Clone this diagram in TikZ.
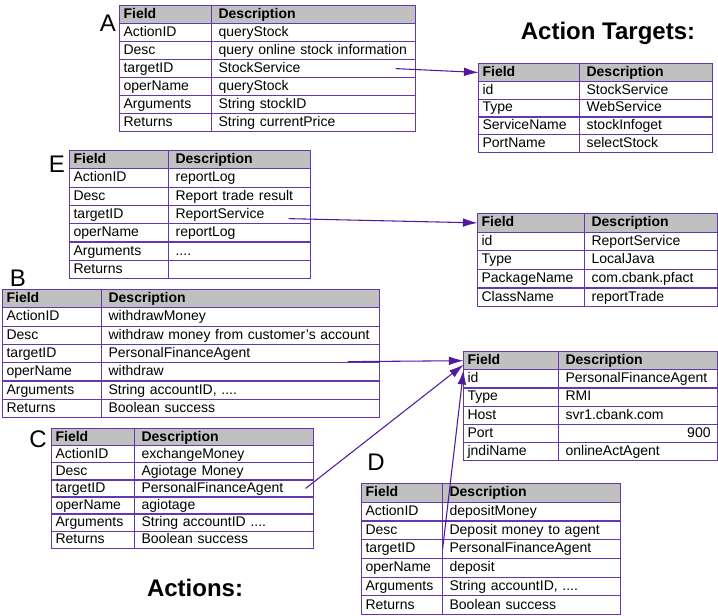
\documentclass[tikz,border=0pt]{standalone}
\usepackage{fontspec}
\setmainfont{Liberation Sans}
\usetikzlibrary{matrix,arrows.meta}
\newdimen\pxu \pxu=0.75pt
\definecolor{tblline}{RGB}{100,55,175}
\definecolor{linkline}{RGB}{80,25,160}
\definecolor{tblhead}{RGB}{192,192,192}

\begin{document}
\begin{tikzpicture}[x=1\pxu,y=-1\pxu,
  tbl/.style n args={3}{matrix of nodes, nodes in empty cells, anchor=north west,
    inner sep=0pt, outer sep=0pt, column sep=-0.9pt, row sep=-0.9pt,
    nodes={draw=tblline, line width=0.9pt, inner ysep=0pt, minimum height=#3\pxu,
      text height=1.55ex, text depth=.45ex, align=left, font=\fontsize{10.5}{12}\selectfont},
    column 1/.style={nodes={text width=(#1-8)*\pxu, inner xsep=4\pxu}},
    column 2/.style={nodes={text width=(#2-14)*\pxu, inner xsep=7\pxu}},
    row 1/.style={nodes={fill=tblhead, font=\fontsize{10.5}{12}\selectfont\bfseries}}},
  letter/.style={font=\fontsize{18}{20}\selectfont},
  title/.style={font=\fontsize{18}{21}\selectfont\bfseries},
  link/.style={linkline, line width=0.8pt, -{Latex[length=11pt,width=6.5pt]}}]
%\draw[help lines] (0,0) grid[step=50] (718,616);
\useasboundingbox (0,0) rectangle (718,616);

\node[title] (ttlTargets) at (608,33) {Action Targets:};
\node[title] (ttlActions) at (195,588) {Actions:};

\node[letter] (lblA) at (108,23) {A};
\node[letter] (lblE) at (57,164) {E};
\node[letter] (lblB) at (18,278) {B};
\node[letter] (lblC) at (38,439) {C};
\node[letter] (lblD) at (376,462) {D};

\matrix (A) [tbl={92}{204}{18}] at (119,5) {
Field & Description \\
ActionID & queryStock \\
Desc & query online stock information \\
targetID & StockService \\
operName & queryStock \\
Arguments & String stockID \\
Returns & String currentPrice \\
};

\matrix (T1) [tbl={101}{133}{17.8}] at (478,63) {
Field & Description \\
id & StockService \\
Type & WebService \\
ServiceName & stockInfoget \\
PortName & selectStock \\
};

\matrix (E) [tbl={99}{142}{18.3}] at (69,150) {
Field & Description \\
ActionID & reportLog \\
Desc & Report trade result \\
targetID & ReportService \\
operName & reportLog \\
Arguments & .... \\
Returns & \\
};

\matrix (T2) [tbl={107}{133}{18.6}] at (477,213) {
Field & Description \\
id & ReportService \\
Type & LocalJava \\
PackageName & com.cbank.pfact \\
ClassName & reportTrade \\
};

\matrix (B) [tbl={99}{278}{18.3}] at (2,289) {
Field & Description \\
ActionID & withdrawMoney \\
Desc & withdraw money from customer's account \\
targetID & PersonalFinanceAgent \\
operName & withdraw \\
Arguments & String accountID, .... \\
Returns & Boolean success \\
};

\matrix (T3) [tbl={95}{159}{18.2}] at (463,351) {
Field & Description \\
id & PersonalFinanceAgent \\
Type & RMI \\
Host & svr1.cbank.com \\
Port & |[align=right]| 900 \\
jndiName & onlineActAgent \\
};

\matrix (C) [tbl={83}{179}{17.1}] at (51,428) {
Field & Description \\
ActionID & exchangeMoney \\
Desc & Agiotage Money \\
targetID & PersonalFinanceAgent \\
operName & agiotage \\
Arguments & String accountID .... \\
Returns & Boolean success \\
};

\matrix (D) [tbl={81}{178}{18.7}] at (361,483) {
Field & Description \\
ActionID & depositMoney \\
Desc & Deposit money to agent \\
targetID & PersonalFinanceAgent \\
operName & deposit \\
Arguments & String accountID, .... \\
Returns & Boolean success \\
};

\draw[link] ([xshift=-15pt]A-4-2.east) -- (T1-1-1.west);
\draw[link] ([xshift=-16.5pt,yshift=-3pt]E-4-2.east) -- (T2-1-1.west);
\draw[link] ([xshift=-24pt,yshift=-6pt]B-4-2.east) -- (T3-1-1.west);
\draw[link] ([xshift=-6pt]C-4-2.east) -- ([yshift=-3pt]T3-1-1.west);
\draw[link] (D-4-2.west) -- (T3-1-1.south west);
\end{tikzpicture}
\end{document}
